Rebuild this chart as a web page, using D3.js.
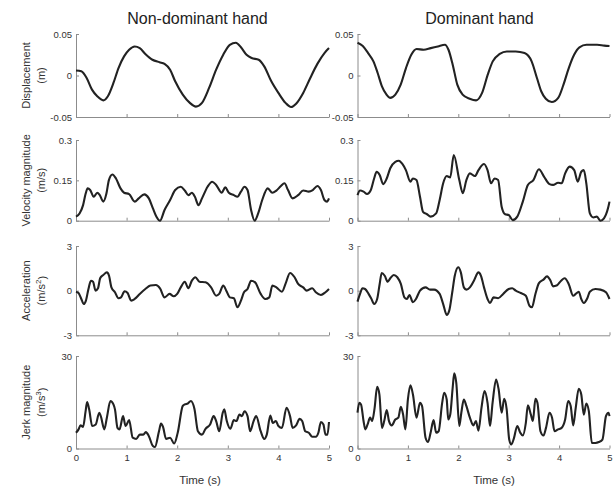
<!DOCTYPE html>
<html>
<head>
<meta charset="utf-8">
<script src="https://cdn.jsdelivr.net/npm/d3@7"></script>
<style>
    body { margin: 0; background: #fff; }
    svg { font-family: "Liberation Sans", Arial, sans-serif; }
    .axis path, .axis line { stroke: #8c8c8c; }
    .axis text { fill: #333; font-size: 9.5px; font-family: "Liberation Sans", Arial, sans-serif; }
</style>
</head>
<body>
<div id="wrapper"></div>
<script>
// [time (s), value]
const ndDisp = [[0,0.006],[0.105,0.005],[0.21,-0.003],[0.316,-0.017],[0.42,-0.025],[0.54,-0.030],[0.63,-0.025],[0.74,-0.009],[0.84,0.009],[0.95,0.023],[1.05,0.031],[1.16,0.035],[1.26,0.033],[1.37,0.026],[1.51,0.019],[1.65,0.016],[1.75,0.014],[1.86,0.007],[1.96,-0.007],[2.11,-0.023],[2.25,-0.033],[2.37,-0.0375],[2.49,-0.033],[2.63,-0.015],[2.77,0.007],[2.91,0.025],[3.04,0.037],[3.16,0.0395],[3.26,0.034],[3.37,0.025],[3.47,0.021],[3.61,0.019],[3.72,0.011],[3.86,-0.007],[4.0,-0.021],[4.14,-0.033],[4.25,-0.038],[4.35,-0.034],[4.49,-0.021],[4.63,-0.003],[4.77,0.014],[4.91,0.027],[5.0,0.033]]
const dDisp = [[0,0.0395],[0.105,0.0355],[0.21,0.027],[0.316,0.017],[0.40,0.003],[0.485,-0.013],[0.576,-0.023],[0.646,-0.027],[0.751,-0.023],[0.857,-0.011],[0.962,0.009],[1.067,0.025],[1.173,0.032],[1.313,0.031],[1.454,0.033],[1.594,0.035],[1.735,0.037],[1.805,0.031],[1.889,0.013],[1.98,-0.011],[2.086,-0.023],[2.226,-0.028],[2.353,-0.030],[2.472,-0.021],[2.584,0.001],[2.683,0.017],[2.823,0.026],[2.963,0.029],[3.139,0.029],[3.315,0.027],[3.455,0.017],[3.56,-0.003],[3.645,-0.019],[3.736,-0.028],[3.855,-0.032],[3.982,-0.027],[4.087,-0.011],[4.192,0.009],[4.298,0.025],[4.403,0.034],[4.544,0.037],[4.754,0.037],[4.895,0.036],[5.0,0.0355]]

const ndVel = [[0,0.015],[0.07,0.027],[0.14,0.058],[0.19,0.10],[0.23,0.12],[0.28,0.114],[0.35,0.089],[0.42,0.104],[0.47,0.095],[0.54,0.071],[0.60,0.10],[0.65,0.151],[0.72,0.172],[0.79,0.157],[0.88,0.12],[0.95,0.104],[1.05,0.099],[1.16,0.071],[1.24,0.083],[1.35,0.098],[1.44,0.083],[1.52,0.046],[1.59,0.015],[1.66,0],[1.75,0.04],[1.86,0.077],[1.96,0.114],[2.07,0.126],[2.15,0.112],[2.22,0.095],[2.29,0.104],[2.35,0.089],[2.42,0.058],[2.49,0.083],[2.60,0.126],[2.69,0.145],[2.77,0.133],[2.88,0.104],[2.95,0.124],[3.02,0.104],[3.12,0.095],[3.19,0.089],[3.26,0.108],[3.33,0.126],[3.39,0.114],[3.46,0.04],[3.53,0],[3.60,0.027],[3.68,0.077],[3.79,0.12],[3.88,0.104],[3.96,0.112],[4.05,0.129],[4.12,0.139],[4.19,0.114],[4.28,0.083],[4.39,0.095],[4.49,0.112],[4.60,0.108],[4.68,0.114],[4.77,0.129],[4.84,0.114],[4.91,0.077],[4.96,0.071],[5.0,0.083]]
const dVel = [[0,0.095],[0.05,0.112],[0.12,0.108],[0.19,0.099],[0.26,0.112],[0.33,0.157],[0.38,0.182],[0.44,0.17],[0.51,0.136],[0.58,0.157],[0.65,0.195],[0.75,0.219],[0.82,0.223],[0.89,0.211],[0.96,0.188],[1.05,0.145],[1.10,0.157],[1.17,0.151],[1.24,0.089],[1.30,0.033],[1.38,0.024],[1.45,0.015],[1.56,0.027],[1.63,0.077],[1.70,0.139],[1.77,0.166],[1.84,0.161],[1.91,0.244],[2.02,0.151],[2.09,0.102],[2.16,0.151],[2.23,0.176],[2.33,0.166],[2.40,0.188],[2.51,0.211],[2.58,0.188],[2.65,0.139],[2.72,0.157],[2.79,0.151],[2.86,0.052],[2.93,0.024],[3.0,0.021],[3.08,0.002],[3.17,0.015],[3.28,0.071],[3.38,0.133],[3.49,0.151],[3.60,0.191],[3.70,0.164],[3.81,0.136],[3.88,0.133],[3.98,0.141],[4.05,0.139],[4.12,0.176],[4.21,0.201],[4.30,0.188],[4.37,0.145],[4.44,0.182],[4.49,0.188],[4.54,0.139],[4.61,0.027],[4.68,0.012],[4.75,0.015],[4.82,0],[4.89,0.009],[4.97,0.046],[5.0,0.071]]

const ndAcc = [[0,-0.07],[0.05,-0.16],[0.105,-0.56],[0.154,-0.9],[0.196,-0.67],[0.246,0.11],[0.295,0.67],[0.337,0.6],[0.386,0],[0.435,0.16],[0.477,0.83],[0.54,1.05],[0.61,1.23],[0.653,1.0],[0.70,0.22],[0.77,-0.11],[0.84,-0.51],[0.89,-0.45],[0.96,-0.04],[1.02,-0.16],[1.09,-0.67],[1.16,-0.56],[1.26,-0.22],[1.37,0.11],[1.47,0.34],[1.58,0.38],[1.66,0.16],[1.75,-0.45],[1.85,-0.22],[1.93,-0.38],[2.0,-0.22],[2.07,0.22],[2.15,0.6],[2.22,0.16],[2.29,0.67],[2.36,0.9],[2.44,0.6],[2.56,0.56],[2.67,0.22],[2.77,-0.34],[2.83,-0.22],[2.91,0.34],[2.97,0],[3.04,-0.45],[3.12,-0.51],[3.19,-1.12],[3.26,-0.67],[3.32,-0.11],[3.39,0.11],[3.46,0.67],[3.54,0.56],[3.65,-0.22],[3.74,-0.56],[3.82,-0.45],[3.88,0.34],[3.96,0.22],[4.07,-0.07],[4.14,0.45],[4.23,1.19],[4.32,0.9],[4.39,0.45],[4.49,0.22],[4.56,0],[4.67,0.16],[4.74,-0.11],[4.84,-0.29],[4.93,-0.11],[5.0,0.11]]
const dAcc = [[0,-0.74],[0.05,-0.22],[0.10,0.16],[0.15,0.11],[0.22,-0.22],[0.27,-0.51],[0.33,-0.9],[0.39,-0.56],[0.44,0.45],[0.48,1.19],[0.54,1.0],[0.60,0.6],[0.65,0.83],[0.72,1.05],[0.79,0.9],[0.86,0.45],[0.93,-0.45],[0.98,-0.56],[1.03,-0.29],[1.10,-0.78],[1.16,-0.56],[1.24,0],[1.35,0.22],[1.44,0.07],[1.52,0.07],[1.63,-0.22],[1.70,-0.9],[1.77,-1.63],[1.82,-1.34],[1.88,-0.11],[1.93,1.0],[2.0,1.57],[2.05,1.23],[2.11,0.22],[2.16,0.07],[2.23,0.22],[2.31,0.67],[2.40,1.23],[2.45,1.0],[2.51,0.22],[2.58,-0.56],[2.63,-0.83],[2.70,-0.45],[2.79,-0.51],[2.89,-0.22],[3.0,0.11],[3.07,0.16],[3.14,0],[3.24,-0.16],[3.34,-0.34],[3.41,-1.0],[3.46,-1.12],[3.53,-0.22],[3.60,0.51],[3.69,0.74],[3.76,0.96],[3.83,0.67],[3.88,0.29],[3.95,0.34],[4.04,0.67],[4.11,0.83],[4.19,0.45],[4.28,-0.34],[4.33,-0.22],[4.39,-0.07],[4.44,-0.56],[4.49,-0.83],[4.56,-0.51],[4.61,-0.07],[4.72,0.11],[4.82,0.07],[4.93,-0.11],[5.0,-0.56]]

const ndJerk = [[0,5.1],[0.05,6.2],[0.09,7.5],[0.14,7.0],[0.19,12.1],[0.22,15.1],[0.26,12.7],[0.32,7.3],[0.39,7.8],[0.46,11.6],[0.49,10.5],[0.56,6.2],[0.61,10.0],[0.68,15.4],[0.74,14.3],[0.77,12.7],[0.82,6.7],[0.86,6.2],[0.93,10.5],[0.98,7.3],[1.05,9.2],[1.12,3.5],[1.19,3.1],[1.26,4.5],[1.33,4.5],[1.38,5.3],[1.44,4.0],[1.52,0.8],[1.56,0.5],[1.64,5.6],[1.68,8.1],[1.72,7.0],[1.78,3.1],[1.86,3.5],[1.94,1.6],[2.01,5.1],[2.11,13.8],[2.15,14.3],[2.21,14.6],[2.27,15.4],[2.34,12.9],[2.41,5.6],[2.49,4.5],[2.56,6.4],[2.65,7.8],[2.72,10.5],[2.77,8.9],[2.83,5.6],[2.90,11.6],[2.93,12.7],[2.98,8.9],[3.05,6.4],[3.12,9.2],[3.17,8.9],[3.23,11.0],[3.28,10.5],[3.33,12.1],[3.39,10.5],[3.44,5.6],[3.51,8.9],[3.56,10.5],[3.65,5.6],[3.72,3.1],[3.77,4.5],[3.84,10.7],[3.89,8.3],[3.95,8.9],[4.0,7.3],[4.07,6.7],[4.16,13.2],[4.23,10.5],[4.28,6.7],[4.35,7.5],[4.42,9.6],[4.47,8.9],[4.53,5.6],[4.60,5.1],[4.67,3.8],[4.74,3.8],[4.79,5.1],[4.84,8.6],[4.89,7.8],[4.93,4.5],[4.97,4.5],[5.0,8.6]]
const dJerk = [[0,11.6],[0.035,14.8],[0.07,14.3],[0.12,8.9],[0.155,6.2],[0.20,7.8],[0.25,10.0],[0.29,8.9],[0.34,13.2],[0.39,20.0],[0.435,17.5],[0.485,6.7],[0.53,8.9],[0.58,12.5],[0.625,8.9],[0.68,7.5],[0.75,9.4],[0.81,10.0],[0.86,13.5],[0.905,11.0],[0.95,6.2],[1.0,15.9],[1.05,20.5],[1.10,17.5],[1.17,10.0],[1.24,14.8],[1.28,13.8],[1.35,3.5],[1.40,2.1],[1.45,5.1],[1.51,9.2],[1.56,5.1],[1.61,5.6],[1.68,14.8],[1.72,18.1],[1.77,15.9],[1.80,9.4],[1.84,11.0],[1.89,20.0],[1.92,24.4],[1.96,21.3],[2.02,7.3],[2.06,11.6],[2.11,15.9],[2.16,13.8],[2.23,10.0],[2.30,7.5],[2.35,8.9],[2.40,5.8],[2.46,13.2],[2.52,18.6],[2.58,14.8],[2.63,7.3],[2.68,14.8],[2.75,22.4],[2.80,19.2],[2.86,11.6],[2.91,16.1],[2.96,12.7],[3.01,2.9],[3.05,1.3],[3.10,3.1],[3.17,7.3],[3.23,5.1],[3.28,4.2],[3.34,8.3],[3.38,14.0],[3.44,11.0],[3.48,8.9],[3.53,16.1],[3.57,14.8],[3.63,5.6],[3.69,4.2],[3.74,6.7],[3.81,11.6],[3.86,10.0],[3.91,5.6],[3.98,6.2],[4.05,6.7],[4.12,9.4],[4.18,15.4],[4.23,13.8],[4.28,7.5],[4.33,13.2],[4.39,19.4],[4.44,17.5],[4.49,11.0],[4.54,14.6],[4.59,12.1],[4.65,1.8],[4.72,1.8],[4.79,2.1],[4.86,2.9],[4.93,10.5],[4.98,11.6],[5.0,10.5]]

const timeTicks = [0, 1, 2, 3, 4, 5]
const dispTicks = [-0.05, 0, 0.05]
const velTicks = [0, 0.15, 0.3]
const accTicks = [-3, 0, 3]
const jerkTicks = [0, 30]
const columnTitles = ["Non-dominant hand", "Dominant hand"]

function drawFigure() {
    const dimensions = { width: 614, height: 487 }

    // left/right plot columns and the four row bands
    const columns = [
        { left: 76, right: 329, titleShift: -5, timeLabelX: 200 },
        { left: 357.5, right: 609.5, titleShift: -4, timeLabelX: 494 },
    ]
    const rowBands = [[34, 117], [140, 220.7], [246, 335.3], [356, 448.5]]

    const rows = [
        { series: [ndDisp, dDisp], domain: [-0.05, 0.05], ticks: dispTicks, label: ["Displacement", ["(m)"]] },
        { series: [ndVel, dVel], domain: [0, 0.3], ticks: velTicks, label: ["Velocity magnitude", ["(m/s)"]] },
        { series: [ndAcc, dAcc], domain: [-3, 3], ticks: accTicks, label: ["Acceleration", ["(m/s", "2", ")"]] },
        { series: [ndJerk, dJerk], domain: [0, 30], ticks: jerkTicks, label: ["Jerk magnitude", ["(m/s", "3", ")"]] },
    ]

    const wrapper = d3.select("#wrapper")
        .append("svg")
        .attr("width", dimensions.width)
        .attr("height", dimensions.height)

    const yFormat = d => d === 0 ? "0" : String(d)

    columns.forEach((col, c) => {
        const xScale = d3.scaleLinear()
            .domain([0, 5])
            .range([col.left, col.right])

        wrapper.append("text")
            .attr("x", (col.left + col.right) / 2 + col.titleShift)
            .attr("y", 24)
            .attr("text-anchor", "middle")
            .attr("fill", "#222")
            .style("font-size", "16px")
            .text(columnTitles[c])

        rows.forEach((row, r) => {
            const [top, bottom] = rowBands[r]
            const yScale = d3.scaleLinear()
                .domain(row.domain)
                .range([bottom, top])

            const xAxisGenerator = d3.axisBottom(xScale)
                .tickValues(timeTicks)
                .tickSizeInner(-3)
                .tickSizeOuter(0)
                .tickPadding(6)
                .tickFormat(r === rows.length - 1 ? d3.format("d") : "")

            wrapper.append("g")
                .attr("class", "axis")
                .attr("transform", `translate(0,${bottom})`)
                .call(xAxisGenerator)

            const yAxisGenerator = d3.axisLeft(yScale)
                .tickValues(row.ticks)
                .tickSizeInner(-3)
                .tickSizeOuter(0)
                .tickPadding(4)
                .tickFormat(yFormat)

            wrapper.append("g")
                .attr("class", "axis")
                .attr("transform", `translate(${col.left},0)`)
                .call(yAxisGenerator)

            const lineGenerator = d3.line()
                .x(d => xScale(d[0]))
                .y(d => yScale(d[1]))
                .curve(d3.curveMonotoneX)

            wrapper.append("path")
                .datum(row.series[c])
                .attr("d", lineGenerator)
                .attr("fill", "none")
                .attr("stroke", "#222")
                .attr("stroke-width", 2.1)
                .attr("stroke-linejoin", "round")

            if (c === 0) {
                const mid = (top + bottom) / 2
                wrapper.append("text")
                    .attr("transform", `translate(30,${mid}) rotate(-90)`)
                    .attr("text-anchor", "middle")
                    .attr("fill", "#333")
                    .style("font-size", "11px")
                    .text(row.label[0])

                const unit = wrapper.append("text")
                    .attr("transform", `translate(45,${mid}) rotate(-90)`)
                    .attr("text-anchor", "middle")
                    .attr("fill", "#333")
                    .style("font-size", "11px")
                const parts = row.label[1]
                unit.append("tspan").text(parts[0])
                if (parts.length > 1) {
                    unit.append("tspan")
                        .attr("dy", "-0.45em")
                        .style("font-size", "8px")
                        .text(parts[1])
                    unit.append("tspan")
                        .attr("dy", "0.45em")
                        .text(parts[2])
                }
            }
        })

        wrapper.append("text")
            .attr("x", col.timeLabelX)
            .attr("y", 484)
            .attr("text-anchor", "middle")
            .attr("fill", "#333")
            .style("font-size", "11.5px")
            .text("Time (s)")
    })
}

drawFigure()
</script>
</body>
</html>
